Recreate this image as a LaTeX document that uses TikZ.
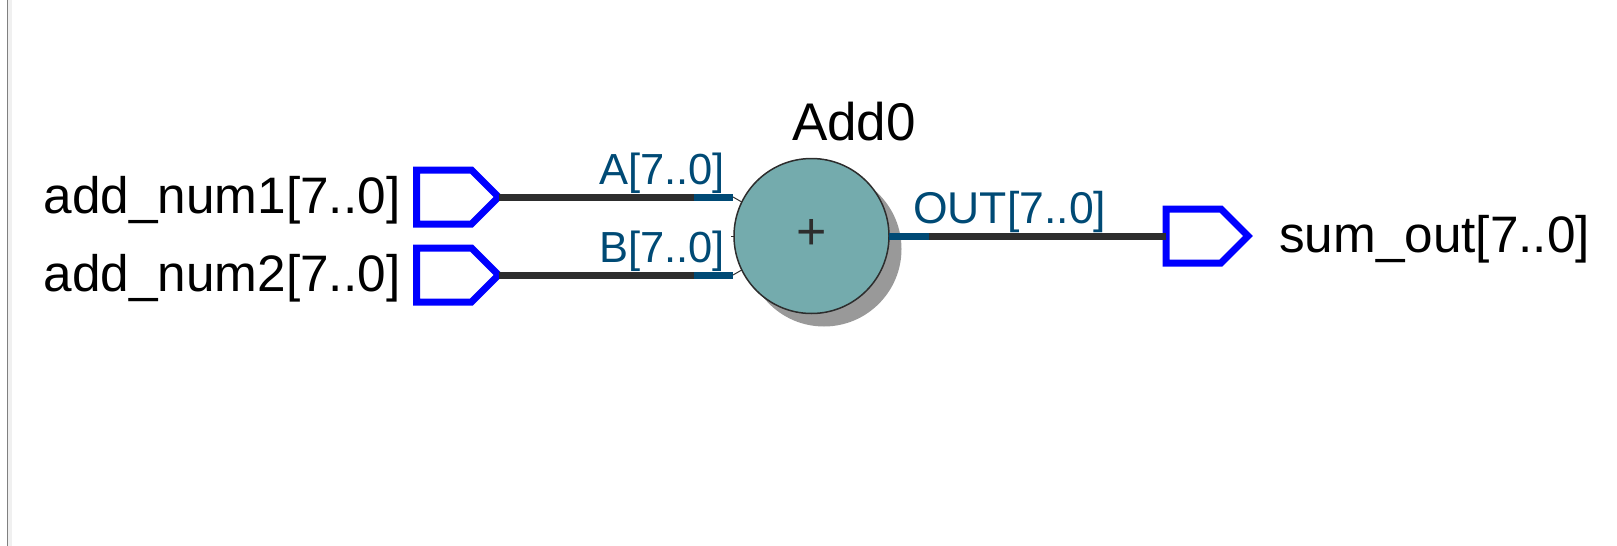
\documentclass[tikz,border=0pt]{standalone}
\usepackage{fontspec}
\setmainfont{Liberation Sans}
\usetikzlibrary{shapes.symbols, positioning}
\definecolor{pinblue}{HTML}{0000FF}
\definecolor{wiredark}{HTML}{2D2D2D}
\definecolor{portblue}{HTML}{004A75}
\definecolor{addteal}{HTML}{74ABAD}
\definecolor{addshade}{HTML}{999999}
\tikzset{
    pin/.style={signal, signal to=east, signal pointer angle=90, draw=pinblue, line width=7pt, line join=miter, minimum width=82pt, minimum height=54pt, inner sep=0pt, outer sep=0pt, anchor=west},
    pinlabel/.style={font=\fontsize{51.3}{51.3}\selectfont, inner sep=0pt},
    portlabel/.style={font=\fontsize{43.5}{43.5}\selectfont, text=portblue, inner sep=0pt},
    wire/.style={wiredark, line width=7pt},
    portwire/.style={portblue, line width=7pt},
    stub/.style={wiredark, line width=1pt},
    adder/.style={circle, draw=wiredark, fill=addteal, line width=1.5pt, minimum size=155pt, inner sep=0pt, outer sep=0pt, text=wiredark, font=\fontsize{52}{52}\selectfont},
    addshadow/.style={circle, fill=addshade, minimum size=155pt, inner sep=0pt, outer sep=0pt}
}
\begin{document}
\begin{tikzpicture}[x=1pt, y=-1pt]
    \useasboundingbox (0,0) rectangle (1617,546);
    \fill[gray!12] (8,0) rectangle (12,546);
    \fill[gray] (7,0) rectangle (8,546);

    \node[addshadow] (add0s) at (824,249) {};
    \node[adder] (add0) at (811.5,236) {\raisebox{4pt}{+}};
    \node[pinlabel, above=17pt of add0, xshift=42.5pt, font=\fontsize{53}{53}\selectfont] (add0name) {Add0};

    \node[pin] (num1) at (416.5,197) {};
    \node[pin] (num2) at (416.5,275) {};
    \node[pin] (sum) at (1166,236) {};
    \node[pinlabel, left=16pt of num1, yshift=-3pt] (num1name) {add\_num1[7..0]};
    \node[pinlabel, left=16pt of num2, yshift=-3pt] (num2name) {add\_num2[7..0]};
    \node[pinlabel, right=31pt of sum, yshift=-3pt] (sumname) {sum\_out[7..0]};

    % ports of the adder
    \coordinate (portA) at (733,197);
    \coordinate (portAk) at (694,197);
    \coordinate (portB) at (733,275);
    \coordinate (portBk) at (694,275);
    \coordinate (portC) at (731,236);
    \coordinate (portOk) at (929,236);

    \draw[wire] (num1.east) -- (portAk);
    \draw[wire] (num2.east) -- (portBk);
    \draw[wire] (portOk) -- (sum.west);
    \draw[portwire] (portAk) -- (portA);
    \draw[portwire] (portBk) -- (portB);
    \draw[portwire] (add0.east) -- (portOk);
    \draw[stub] (portA) -- (add0.154);
    \draw[stub] (portB) -- (add0.206);
    \draw[stub] (portC) -- (add0.west);

    \node[portlabel, anchor=base east] (labelA) at (725,184.5) {A[7..0]};
    \node[portlabel, anchor=base east] (labelB) at (725,262.5) {B[7..0]};
    \node[portlabel, anchor=base west, font=\fontsize{44.5}{44.5}\selectfont] (labelO) at (913,223) {OUT[7..0]};
\end{tikzpicture}
\end{document}
